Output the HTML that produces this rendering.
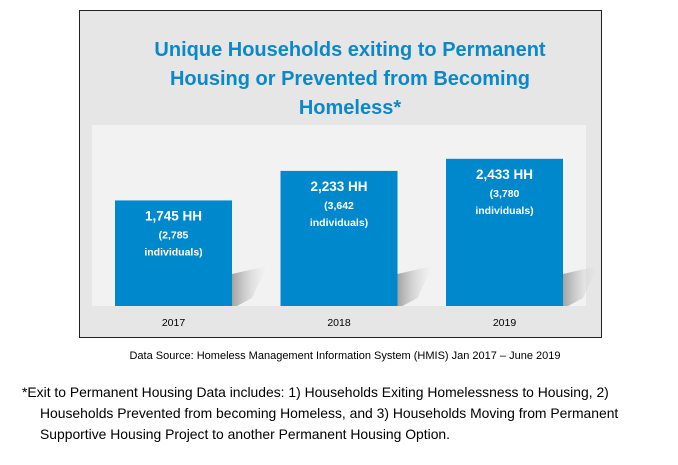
<!DOCTYPE html>
<html><head><meta charset="utf-8"><style>
body{margin:0;width:678px;height:465px;background:#fff;overflow:hidden;font-family:"Liberation Sans",sans-serif;position:relative}
.abs{position:absolute}
</style></head><body>
<div class="abs" style="left:79px;top:10px;width:521px;height:326px;background:#e6e6e6;border:1px solid #222;"></div>
<div class="abs" style="left:100px;top:36px;width:500px;text-align:center;color:#0a88c8;font-weight:bold;font-size:20px;line-height:29px;">Unique Households exiting to Permanent<br>Housing or Prevented from Becoming<br>Homeless*</div>
<svg class="abs" style="left:0;top:0" width="678" height="465">
<defs>
<linearGradient id="sh" x1="0" y1="0" x2="1" y2="0"><stop offset="0" stop-color="#999" stop-opacity=".9"/><stop offset="1" stop-color="#ddd" stop-opacity="0"/></linearGradient>
</defs>
<rect x="92" y="125" width="494" height="181" fill="#f2f2f2"/>
<g id="bars"></g>
</svg>
<div class="abs" style="left:0;top:350px;width:690px;text-align:center;font-size:11px;color:#000;">Data Source: Homeless Management Information System (HMIS) Jan 2017 – June 2019</div>
<div class="abs" style="left:22px;top:382px;width:660px;font-size:13.9px;line-height:21px;color:#000;white-space:nowrap;">*Exit to Permanent Housing Data includes: 1) Households Exiting Homelessness to Housing, 2)<br><span style="padding-left:18px">Households Prevented from becoming Homeless, and 3) Households Moving from Permanent</span><br><span style="padding-left:18px">Supportive Housing Project to another Permanent Housing Option.</span></div>
<script>
const categories=["2017","2018","2019"];
const households=[1745,2233,2433];
const individuals=["2,785","3,642","3,780"];
const hhLabels=["1,745 HH","2,233 HH","2,433 HH"];
const ns="http://www.w3.org/2000/svg";
const g=document.getElementById('bars');
const baseY=306,scale=0.0605,x0=115,step=165.5,bw=117;
function yPos(v){return baseY-v*scale;}
function mk(t,a){const e=document.createElementNS(ns,t);for(const k in a)e.setAttribute(k,a[k]);return e;}
categories.forEach((c,i)=>{
 const x=x0+i*step,y=yPos(households[i]);
 const sh=mk('polygon',{points:`${x+bw},${baseY} ${x+bw},${baseY-32} ${x+bw+35},${baseY-40} ${x+bw+20},${baseY-8} ${x+bw+5},${baseY}`,fill:'url(#sh)'});
 
 
 g.appendChild(sh);
 const r=mk('rect',{x:x,y:y,width:bw,height:baseY-y,fill:'#0088cc'});
 
 
 g.appendChild(r);
 const cx=x+bw/2;
 const t1=mk('text',{x:cx,y:y+20,'text-anchor':'middle',fill:'#fff','font-weight':'bold','font-size':'13.5'});
 t1.textContent=hhLabels[i];
 
 
 g.appendChild(t1);
 const t2=mk('text',{x:cx,y:y+38,'text-anchor':'middle',fill:'#fff','font-weight':'bold','font-size':'10.5'});
 t2.textContent='('+individuals[i];
 
 
 g.appendChild(t2);
 const t3=mk('text',{x:cx,y:y+55,'text-anchor':'middle',fill:'#fff','font-weight':'bold','font-size':'10.5'});
 t3.textContent='individuals)';
 
 
 g.appendChild(t3);
 const xl=mk('text',{x:cx,y:326,'text-anchor':'middle',fill:'#000','font-size':'10.5'});
 xl.textContent=c;
 
 
 g.appendChild(xl);
});
</script>
</body></html>
